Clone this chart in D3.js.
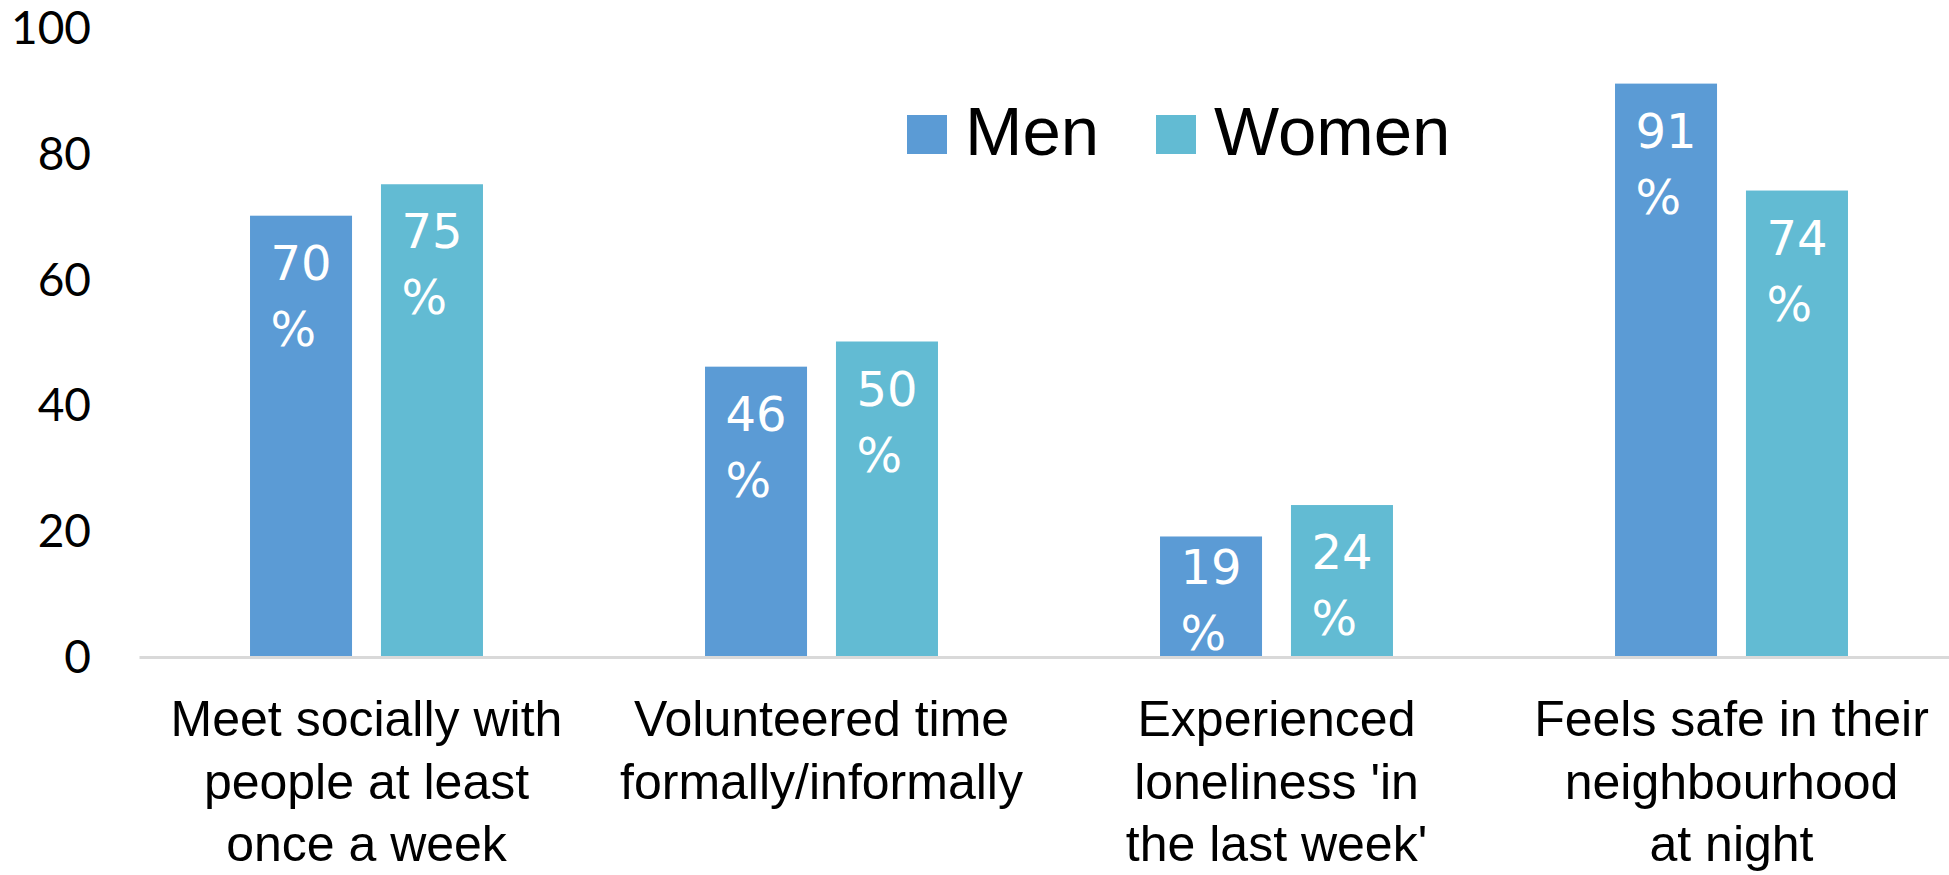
<!DOCTYPE html>
<html>
<head>
<meta charset="utf-8">
<script src="https://cdn.jsdelivr.net/npm/d3@7"></script>
<style>
  html, body { margin: 0; padding: 0; background: #ffffff; }
  svg { display: block; }
</style>
</head>
<body>
<svg id="chart" width="1949" height="875"></svg>
<script>
// Categories (line breaks mark where each axis label wraps)
const categories = [
  "Meet socially with\npeople at least\nonce a week",
  "Volunteered time\nformally/informally",
  "Experienced\nloneliness 'in\nthe last week'",
  "Feels safe in their\nneighbourhood\nat night"
];
const seriesNames = ["Men", "Women"];
const menValues = [70, 46, 19, 91];
const womenValues = [75, 50, 24, 74];
const yTicks = [0, 20, 40, 60, 80, 100];

const seriesValues = { Men: menValues, Women: womenValues };
const colors = { Men: "#5b9bd5", Women: "#62bbd3" };

const svg = d3.select("#chart");

// Scales
const x0 = d3.scaleBand().domain(categories).range([139, 1959]).padding(0);
const groupWidth = x0.bandwidth() * 0.512;
const groupOffset = (x0.bandwidth() - groupWidth) / 2;
const x1 = d3.scaleBand().domain(seriesNames).range([0, groupWidth]).paddingInner(0.221).paddingOuter(0);
const y = d3.scaleLinear().domain([0, 100]).range([656, 27]);

// Y axis: labels only
const yAxis = svg.append("g")
  .attr("transform", `translate(${x0.range()[0]},0)`)
  .call(d3.axisLeft(y).tickValues(yTicks).tickSize(0).tickPadding(48).tickFormat(d3.format("d")));
yAxis.select(".domain").remove();
yAxis.selectAll("text")
  .attr("font-family", "Lato, 'Open Sans', sans-serif")
  .attr("font-size", 46)
  .attr("fill", "#000")
  .attr("dy", "0.36em");

// Bars
const rows = categories.map((c, i) => ({
  category: c,
  items: seriesNames.map(s => ({ series: s, value: seriesValues[s][i] }))
}));

const groups = svg.append("g").selectAll("g")
  .data(rows)
  .join("g")
  .attr("transform", d => `translate(${x0(d.category) + groupOffset},0)`);

groups.selectAll("rect")
  .data(d => d.items)
  .join("rect")
  .attr("x", d => x1(d.series))
  .attr("y", d => y(d.value))
  .attr("width", x1.bandwidth())
  .attr("height", d => y(0) - y(d.value))
  .attr("fill", d => colors[d.series]);

// X axis line and wrapped category labels
const xAxis = svg.append("g")
  .attr("transform", `translate(0,${y(0) + 1})`)
  .call(d3.axisBottom(x0).tickSize(0).tickFormat(""));
xAxis.select(".domain")
  .attr("stroke", "#d9d9d9")
  .attr("stroke-width", 3);

const catLabels = svg.append("g")
  .selectAll("text")
  .data(categories)
  .join("text")
  .attr("x", d => x0(d) + x0.bandwidth() / 2)
  .attr("y", 736)
  .attr("text-anchor", "middle")
  .attr("font-family", "'Liberation Sans', Arial, sans-serif")
  .attr("font-size", 50)
  .attr("fill", "#000");
catLabels.selectAll("tspan")
  .data(d => d.split("\n"))
  .join("tspan")
  .attr("x", function () { return d3.select(this.parentNode).attr("x"); })
  .attr("dy", (d, i) => i === 0 ? 0 : 62.5)
  .text(d => d);

// Value labels inside the bar tops: number on one line, "%" below, left-aligned block centred in the bar
const lineGap = 66;
groups.each(function () {
  const g = d3.select(this);
  g.selectAll("text.value")
    .data(d => d.items)
    .join("text")
    .attr("class", "value")
    .attr("font-family", "'DejaVu Sans', Verdana, sans-serif")
    .attr("font-size", 48)
    .attr("fill", "#ffffff")
    .each(function (d) {
      const t = d3.select(this);
      const top = y(d.value);
      const h = y(0) - top;
      const base = top + Math.min(64, h - 72);
      const first = t.append("tspan").attr("y", base).text(String(d.value));
      const w = first.node().getComputedTextLength();
      const left = x1(d.series) + x1.bandwidth() / 2 - w / 2;
      first.attr("x", left);
      t.append("tspan").attr("x", left).attr("y", base + lineGap).text("%");
    });
});

// Legend
const legendItems = [
  { name: "Men", sx: 907 },
  { name: "Women", sx: 1156 }
];
const lg = svg.append("g").selectAll("g")
  .data(legendItems)
  .join("g")
  .attr("transform", d => `translate(${d.sx},0)`);
lg.append("rect")
  .attr("x", 0).attr("y", 115)
  .attr("width", 40).attr("height", 39)
  .attr("fill", d => colors[d.name]);
lg.append("text")
  .attr("x", 58).attr("y", 155)
  .attr("font-family", "'Liberation Sans', Arial, sans-serif")
  .attr("font-size", 69)
  .attr("fill", "#000")
  .text(d => d.name);
</script>
</body>
</html>
